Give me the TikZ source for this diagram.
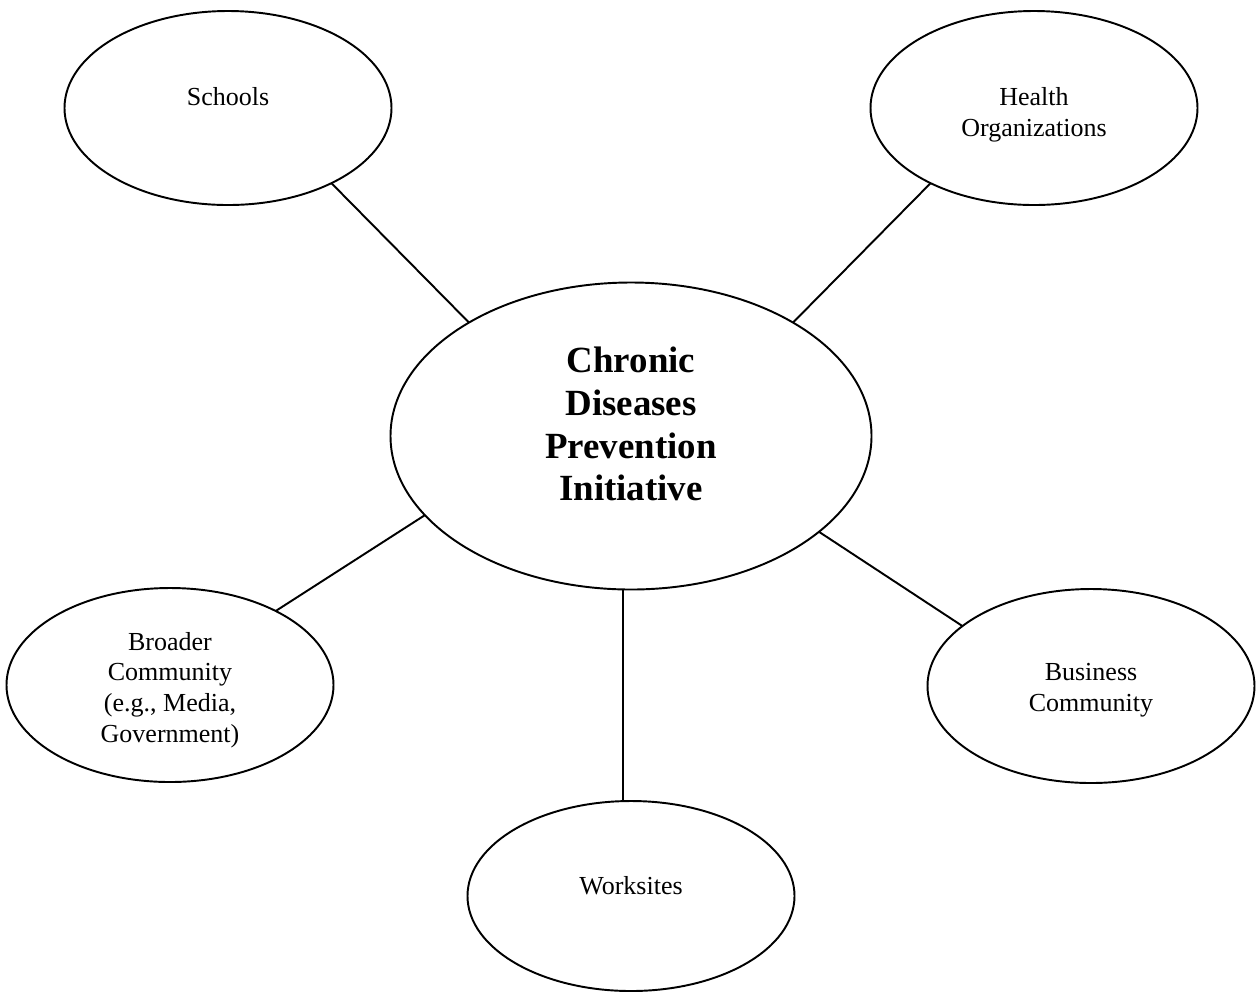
\documentclass[tikz,border=0pt]{standalone}
\usepackage{fontspec}
\setmainfont{Liberation Serif}
\usetikzlibrary{shapes.geometric}
\begin{document}
\begin{tikzpicture}[x=0.02cm,y=-0.02cm,
  bubble/.style={ellipse,draw,line width=1.1pt,inner sep=0pt,outer sep=0pt,
    minimum width=327*0.02cm,minimum height=194*0.02cm},
  hub/.style={bubble,minimum width=481*0.02cm,minimum height=307*0.02cm},
  lbl/.style={align=center,inner sep=0pt,font=\fontsize{14.8}{17.4}\selectfont},
  hublbl/.style={align=center,inner sep=0pt,font=\fontsize{21}{24.4}\selectfont\bfseries},
  link/.style={line width=1.1pt}]
\useasboundingbox (0,0) rectangle (1257,992);

% central initiative
\node[hub] (hub) at (631,436) {};
\node[hublbl] (hubtext) at (631,424) {Chronic\\Diseases\\Prevention\\Initiative};

% partner sectors
\node[bubble] (schools) at (228,108) {};
\node[lbl] (schoolstext) at (228,97) {Schools};

\node[bubble] (health) at (1034,108) {};
\node[lbl] (healthtext) at (1034,115) {Health\\Organizations};

\node[bubble] (broader) at (170,685) {};
\node[lbl] (broadertext) at (170,690) {Broader\\Community\\(e.g., Media,\\Government)};

\node[bubble] (business) at (1091,686) {};
\node[lbl] (businesstext) at (1091,690) {Business\\Community};

\node[bubble,minimum height=190*0.02cm] (work) at (631,896) {};
\node[lbl] (worktext) at (631,886) {Worksites};

% spokes
\draw[link] (schools.-36.6) -- (hub.145);
\draw[link] (health.216.6) -- (hub.35);
\draw[link] (broader.35.9) -- (hub.201);
\draw[link] (business.155.1) -- (hub.-27.5);
\draw[link] (hub.267.3) -- (hub.267.3 |- work.north);
\end{tikzpicture}
\end{document}
